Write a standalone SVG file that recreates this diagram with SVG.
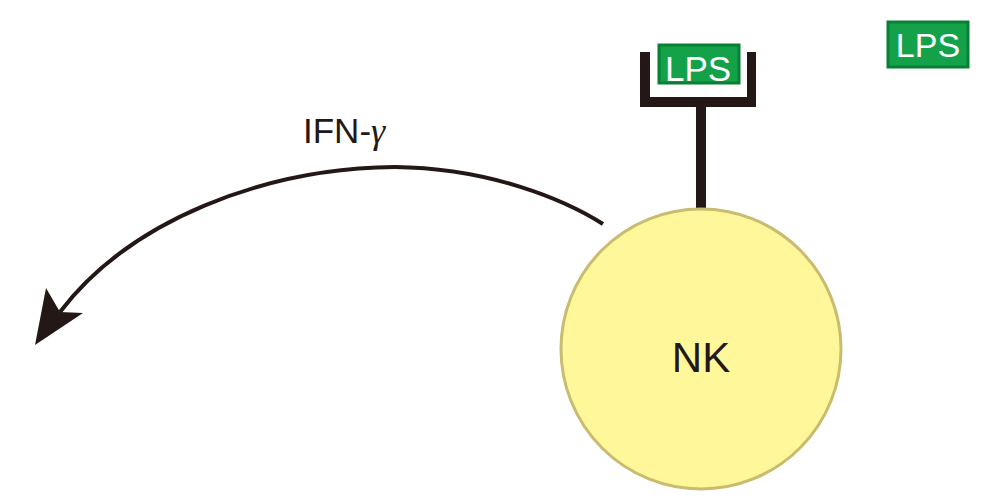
<svg xmlns="http://www.w3.org/2000/svg" width="999" height="501" viewBox="0 0 999 501">
<style>
.lps{fill:#13a24a;stroke:#078034;stroke-width:3}
.lpst{font-family:"Liberation Sans",Arial,sans-serif;fill:#ffffff}
.dark{fill:#231815}
</style>
<rect width="999" height="501" fill="#ffffff"/>
<g id="connectors">
<path d="M603,224 C565,200 490,168 395,167 C265,168 130,220 60,312" fill="none" stroke="#231815" stroke-width="4"/>
<polygon points="35,345 46,288 60,312 83,313" fill="#231815"/>
</g>
<g id="receptor">
<rect x="696" y="100" width="10" height="112" class="dark"/>
<path d="M640,52 H650 V97 H747 V52 H756 V107 H640 Z" class="dark"/>
</g>
<g id="lps1">
<rect x="659" y="45" width="80" height="38" class="lps"/>
<text x="698" y="81" text-anchor="middle" class="lpst" font-size="35">LPS</text>
</g>
<g id="lps2">
<rect x="888" y="22" width="80" height="45" class="lps"/>
<text x="928" y="57" text-anchor="middle" class="lpst" font-size="34">LPS</text>
</g>
<g id="nk">
<circle cx="701" cy="349" r="140" fill="#fff799" stroke="#c9bb6f" stroke-width="3"/>
<text x="701" y="372" text-anchor="middle" font-family="Liberation Sans,Arial,sans-serif" font-size="42" fill="#231815">NK</text>
</g>
<g id="label">
<text x="303" y="143" font-family="Liberation Sans,Arial,sans-serif" font-size="35" fill="#231815">IFN-<tspan font-family="Liberation Serif,serif" font-style="italic" font-size="36">γ</tspan></text>
</g>
</svg>
